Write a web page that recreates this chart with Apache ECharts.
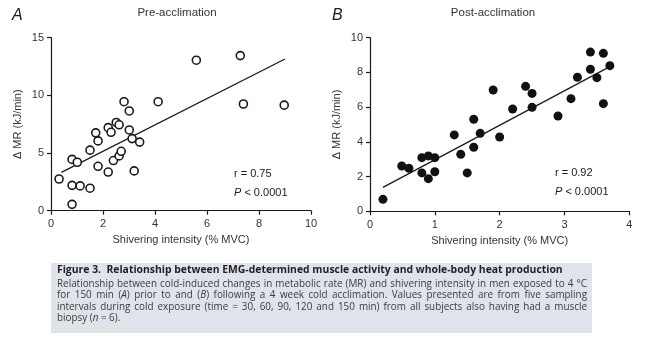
<!DOCTYPE html>
<html>
<head>
<meta charset="utf-8">
<script src="https://cdn.jsdelivr.net/npm/echarts@6/dist/echarts.min.js"></script>
<style>
  html, body { margin: 0; padding: 0; background: #fff; }
  #chart { width: 650px; height: 343px; }
</style>
</head>
<body>
<div id="chart"></div>
<script>
// Panel A: pre-acclimation (shivering intensity %MVC vs change in MR, kJ/min)
const preX = [0.31, 0.81, 0.81, 0.81, 1.01, 1.12, 1.5, 1.5, 1.72, 1.81, 1.81, 2.2, 2.2, 2.31, 2.4,
              2.51, 2.62, 2.62, 2.7, 2.81, 3.01, 3.01, 3.12, 3.2, 3.41, 4.12, 5.59, 7.28, 7.4, 8.97];
const preY = [2.75, 0.55, 2.2, 4.45, 4.2, 2.15, 1.95, 5.25, 6.75, 6.05, 3.85, 7.2, 3.35, 6.8, 4.35,
              7.65, 7.45, 4.75, 5.15, 9.45, 8.65, 7.0, 6.25, 3.45, 5.95, 9.45, 13.05, 13.45, 9.25, 9.15];
const preFitX = [0.4, 9.0];
const preFitY = [3.32, 13.15];

// Panel B: post-acclimation
const postX = [0.2, 0.49, 0.6, 0.8, 0.8, 0.9, 0.9, 1.0, 1.0, 1.3, 1.4, 1.5, 1.6, 1.6, 1.7,
               1.9, 2.0, 2.2, 2.4, 2.5, 2.5, 2.9, 3.1, 3.2, 3.4, 3.4, 3.5, 3.6, 3.6, 3.7];
const postY = [0.69, 2.61, 2.48, 3.09, 2.21, 3.19, 1.88, 3.09, 2.28, 4.4, 3.28, 2.21, 5.3, 3.69, 4.49,
               6.99, 4.28, 5.89, 7.2, 6.79, 5.99, 5.49, 6.49, 7.72, 9.17, 8.18, 7.7, 9.1, 6.2, 8.39];
const postFitX = [0.2, 3.7];
const postFitY = [1.38, 8.33];

// Axis ranges / tick steps
const preXTicks = [0, 10, 2];
const preYTicks = [0, 15, 5];
const postXTicks = [0, 4, 1];
const postYTicks = [0, 10, 2];

const panelTitles = ['Pre-acclimation', 'Post-acclimation'];
const panelLetters = ['A', 'B'];
const stats = [['r = 0.75', '0.0001'], ['r = 0.92', '0.0001']];
const xName = 'Shivering intensity (% MVC)';
const yName = 'Δ MR (kJ/min)';

// Caption lines; _..._ marks italic pieces
const captionTitle = 'Figure 3.  Relationship between EMG-determined muscle activity and whole-body heat production';
const captionLines = [
  'Relationship between cold-induced changes in metabolic rate (MR) and shivering intensity in men exposed to 4 °C',
  'for 150 min (_A_) prior to and (_B_) following a 4 week cold acclimation. Values presented are from five sampling',
  'intervals during cold exposure (time = 30, 60, 90, 120 and 150 min) from all subjects also having had a muscle',
  'biopsy (_n_ = 6).'
];

const FONT = '"Liberation Sans", Arial, Helvetica, sans-serif';
const CAP_FONT = '"Open Sans", "Noto Sans", sans-serif';
const INK = '#1a1a1a';

function pairs(xs, ys) { return xs.map((x, i) => [x, ys[i]]); }

function axisX(idx, t) {
  return {
    type: 'value', gridIndex: idx, min: t[0], max: t[1], interval: t[2],
    name: xName, nameLocation: 'middle', nameGap: 22,
    nameTextStyle: { fontFamily: FONT, fontSize: 11, color: '#333' },
    axisLine: { show: true, onZero: false, lineStyle: { color: INK, width: 1.2 } },
    axisTick: { show: true, inside: false, length: 4, lineStyle: { color: INK, width: 1.2 } },
    axisLabel: { margin: 8, fontFamily: FONT, fontSize: 11, color: '#333' },
    splitLine: { show: false }
  };
}
function axisY(idx, t) {
  return {
    type: 'value', gridIndex: idx, min: t[0], max: t[1], interval: t[2],
    name: yName, nameLocation: 'middle', nameGap: 28, nameRotate: 90,
    nameTextStyle: { fontFamily: FONT, fontSize: 11, color: '#333' },
    axisLine: { show: true, onZero: false, lineStyle: { color: INK, width: 1.2 } },
    axisTick: { show: true, inside: false, length: 4, lineStyle: { color: INK, width: 1.2 } },
    axisLabel: { margin: 7, fontFamily: FONT, fontSize: 11, color: '#333' },
    splitLine: { show: false }
  };
}

// Measure text for justified caption layout
const measureCtx = document.createElement('canvas').getContext('2d');
function segWidth(text, font) { measureCtx.font = font; return measureCtx.measureText(text).width; }

const CAP_SIZE = 9.9;
const CAP_LEFT = 57, CAP_RIGHT = 587;
const capLineY = [284.3, 295.5, 306.7, 317.8];

function captionGraphics() {
  const els = [];
  const normal = CAP_SIZE + 'px ' + CAP_FONT;
  const italic = 'italic ' + CAP_SIZE + 'px ' + CAP_FONT;
  captionLines.forEach((line, li) => {
    const words = line.split(' ').map(w => {
      const parts = w.split('_');
      return parts.map((p, k) => [p, k % 2 === 1]).filter(p => p[0].length);
    });
    const widths = words.map(ws => ws.reduce((s, p) => s + segWidth(p[0], p[1] ? italic : normal), 0));
    const total = widths.reduce((a, b) => a + b, 0);
    const justify = li < captionLines.length - 1;
    const space = segWidth(' ', normal);
    const gap = justify ? Math.max(space * 0.6, (CAP_RIGHT - CAP_LEFT - total) / (words.length - 1)) : space;
    let x = CAP_LEFT;
    words.forEach((ws, wi) => {
      let px = x;
      ws.forEach(p => {
        els.push({
          type: 'text', x: px, y: capLineY[li], silent: true,
          style: { text: p[0], font: (p[1] ? italic : normal), fill: '#3a3a3a', verticalAlign: 'middle', align: 'left' }
        });
        px += segWidth(p[0], p[1] ? italic : normal);
      });
      x += widths[wi] + gap;
    });
  });
  return els;
}

const chart = echarts.init(document.getElementById('chart'), null, { renderer: 'canvas' });

const gridA = { left: 51, top: 37.7, width: 260, height: 173 };
const gridB = { left: 370, top: 37.7, width: 259.3, height: 173.6 };

const option = {
  backgroundColor: '#ffffff',
  animation: false,
  grid: [gridA, gridB],
  xAxis: [axisX(0, preXTicks), axisX(1, postXTicks)],
  yAxis: [axisY(0, preYTicks), axisY(1, postYTicks)],
  series: [
    {
      type: 'line', xAxisIndex: 0, yAxisIndex: 0, data: pairs(preFitX, preFitY),
      symbol: 'none', lineStyle: { color: INK, width: 1.3 }, z: 1
    },
    {
      type: 'scatter', xAxisIndex: 0, yAxisIndex: 0, data: pairs(preX, preY),
      symbol: 'circle', symbolSize: 8,
      itemStyle: { color: '#ffffff', borderColor: INK, borderWidth: 1.6, opacity: 1 }, z: 3
    },
    {
      type: 'line', xAxisIndex: 1, yAxisIndex: 1, data: pairs(postFitX, postFitY),
      symbol: 'none', lineStyle: { color: INK, width: 1.3 }, z: 1
    },
    {
      type: 'scatter', xAxisIndex: 1, yAxisIndex: 1, data: pairs(postX, postY),
      symbol: 'circle', symbolSize: 9,
      itemStyle: { color: '#111111', opacity: 1 }, z: 3
    }
  ],
  graphic: [
    // panel letters
    { type: 'text', x: 12, y: 16, style: { text: panelLetters[0], font: 'italic 16px ' + FONT, fill: INK, verticalAlign: 'middle' } },
    { type: 'text', x: 332, y: 16, style: { text: panelLetters[1], font: 'italic 16px ' + FONT, fill: INK, verticalAlign: 'middle' } },
    // panel titles
    { type: 'text', x: 177, y: 12.5, style: { text: panelTitles[0], font: '11.5px ' + FONT, fill: '#333', align: 'center', verticalAlign: 'middle' } },
    { type: 'text', x: 493, y: 12.5, style: { text: panelTitles[1], font: '11.5px ' + FONT, fill: '#333', align: 'center', verticalAlign: 'middle' } },
    // statistics
    { type: 'text', x: 234, y: 174, style: { text: stats[0][0], font: '11px ' + FONT, fill: INK, verticalAlign: 'middle' } },
    { type: 'text', x: 234, y: 193, style: { text: '{i|P} < ' + stats[0][1], font: '11px ' + FONT, fill: INK, verticalAlign: 'middle',
        rich: { i: { font: 'italic 11px ' + FONT, fill: INK } } } },
    { type: 'text', x: 555, y: 173, style: { text: stats[1][0], font: '11px ' + FONT, fill: INK, verticalAlign: 'middle' } },
    { type: 'text', x: 555, y: 192, style: { text: '{i|P} < ' + stats[1][1], font: '11px ' + FONT, fill: INK, verticalAlign: 'middle',
        rich: { i: { font: 'italic 11px ' + FONT, fill: INK } } } },
    // caption box
    { type: 'rect', shape: { x: 51, y: 263, width: 541, height: 70 }, style: { fill: '#dfe4eb' }, z: -1 },
    { type: 'text', x: 57, y: 270, style: { text: captionTitle, font: 'bold 10.4px ' + CAP_FONT, fill: '#1f1f1f', verticalAlign: 'middle' } }
  ].concat(captionGraphics())
};

chart.setOption(option);
</script>
</body>
</html>
